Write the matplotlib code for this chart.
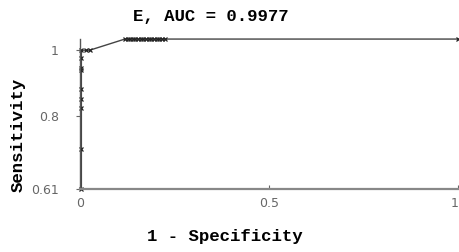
import matplotlib
matplotlib.use("Agg")
import matplotlib.pyplot as plt

# ROC points
fpr = [0.004, 0.004, 0.004, 0.004, 0.004, 0.004, 0.004, 0.004, 0.004,
       0.015, 0.026,
       0.119, 0.126, 0.133, 0.140, 0.147, 0.154, 0.161, 0.168, 0.175,
       0.182, 0.189, 0.196, 0.203, 0.210, 0.217, 0.225,
       1.0]
tpr = [0.61, 0.713, 0.82, 0.843, 0.871, 0.919, 0.924, 0.95, 0.971,
       0.971, 0.971,
       1.0, 1.0, 1.0, 1.0, 1.0, 1.0, 1.0, 1.0, 1.0,
       1.0, 1.0, 1.0, 1.0, 1.0, 1.0, 1.0,
       1.0]

title = "E, AUC = 0.9977"
y_ticks = [0.61, 0.8, 0.972]
y_tick_labels = ["0.61", "0.8", "1"]
x_ticks = [0, 0.5, 1]
x_tick_labels = ["0", "0.5", "1"]

fig = plt.figure(figsize=(4.59, 2.52), dpi=100)
ax = fig.add_axes([0.174, 0.25, 0.824, 0.595])

ax.plot(fpr, tpr, color="#444444", lw=1.0, marker="x", markersize=3,
        markeredgewidth=0.9, markeredgecolor="#222222", clip_on=False)

ax.set_xlim(0, 1)
ax.set_ylim(0.61, 1.0)
ax.set_xticks(x_ticks)
ax.set_xticklabels(x_tick_labels)
ax.set_yticks(y_ticks)
ax.set_yticklabels(y_tick_labels)
ax.get_xticklabels()[-1].set_ha("right")

for s in ["top", "right"]:
    ax.spines[s].set_visible(False)
ax.spines["left"].set_color("#555555")
ax.spines["left"].set_linewidth(1.0)
ax.spines["bottom"].set_color("#888888")
ax.spines["bottom"].set_linewidth(1.6)

ax.tick_params(axis="both", labelsize=9, labelcolor="#666666", color="#666666",
               length=3, width=0.8)
ax.tick_params(axis="x", direction="in", pad=6)
ax.tick_params(axis="y", pad=12)

mono = "Liberation Mono"
fig.text(211 / 459, 1 - 16 / 252, title, family=mono, fontsize=12.5,
         fontweight="bold", ha="center", va="center")
fig.text(225 / 459, 1 - 236 / 252, "1 - Specificity", family=mono,
         fontsize=12.5, fontweight="bold", ha="center", va="center")
fig.text(18 / 459, 1 - 135 / 252, "Sensitivity", family=mono, fontsize=12.5,
         fontweight="bold", ha="center", va="center", rotation=90)

fig.savefig("out.png", dpi=100)
